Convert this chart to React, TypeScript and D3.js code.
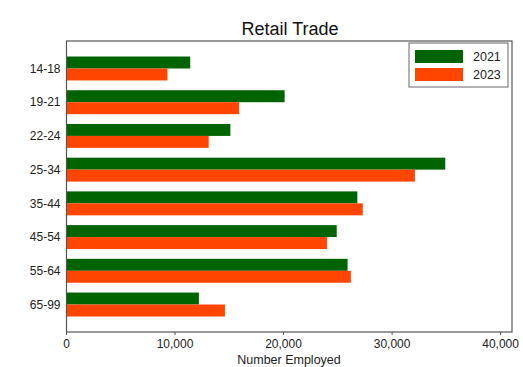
import React from "react";
import * as d3 from "d3";

const categories = ["14-18", "19-21", "22-24", "25-34", "35-44", "45-54", "55-64", "65-99"];
const series = ["2021", "2023"];
const values2021 = [11400, 20100, 15100, 34900, 26800, 24900, 25900, 12200];
const values2023 = [9300, 15900, 13100, 32100, 27300, 24000, 26200, 14600];
const xTicks = [0, 10000, 20000, 30000, 40000];
const colors = ["#006400", "#FF4500"];

const W = 523, H = 367;
const M = { left: 66.5, right: 512, top: 41, bottom: 332 };

export default function App() {
  const x = d3.scaleLinear().domain([0, 41050]).range([M.left, M.right]);
  const y = d3.scaleBand<string>().domain(categories).range([M.top, M.bottom]).paddingInner(0.29).paddingOuter(0.46);
  const sub = d3.scaleBand<string>().domain(series).range([0, y.bandwidth()]);
  const data = [values2021, values2023];
  const fmt = d3.format(",");
  const font = "'Liberation Sans', Arial, sans-serif";
  return (
    <svg width={W} height={H} style={{ position: "absolute", left: 0, top: 0, background: "#fff" }} fontFamily={font}>
      <text x={290} y={35} textAnchor="middle" fontSize={18} fill="#111">Retail Trade</text>
      {categories.map((c, i) =>
        series.map((s, j) => (
          <rect key={c + s} x={x(0)} y={(y(c) as number) + (sub(s) as number)} width={x(data[j][i]) - x(0)} height={sub.bandwidth()} fill={colors[j]} />
        ))
      )}
      <rect x={M.left} y={M.top} width={M.right - M.left} height={M.bottom - M.top} fill="none" stroke="#555" strokeWidth={1.2} />
      {categories.map((c) => (
        <text key={c} x={M.left - 6} y={(y(c) as number) + y.bandwidth() / 2} dy="0.35em" textAnchor="end" fontSize={12} fill="#222">{c}</text>
      ))}
      {xTicks.map((t) => (
        <g key={t}>
          <line x1={x(t)} x2={x(t)} y1={M.bottom} y2={M.bottom + 3} stroke="#555" />
          <text x={x(t)} y={M.bottom + 16} textAnchor="middle" fontSize={12} fill="#222">{fmt(t)}</text>
        </g>
      ))}
      <text x={289} y={363.5} textAnchor="middle" fontSize={12.5} fill="#222">Number Employed</text>
      <g>
        <rect x={409} y={43} width={99} height={44} fill="#fff" stroke="#666" />
        {series.map((s, j) => (
          <g key={s}>
            <rect x={415} y={50 + j * 18} width={48} height={13} fill={colors[j]} />
            <text x={473} y={56.5 + j * 18} dy="0.35em" fontSize={12.5} fill="#222">{s}</text>
          </g>
        ))}
      </g>
    </svg>
  );
}
